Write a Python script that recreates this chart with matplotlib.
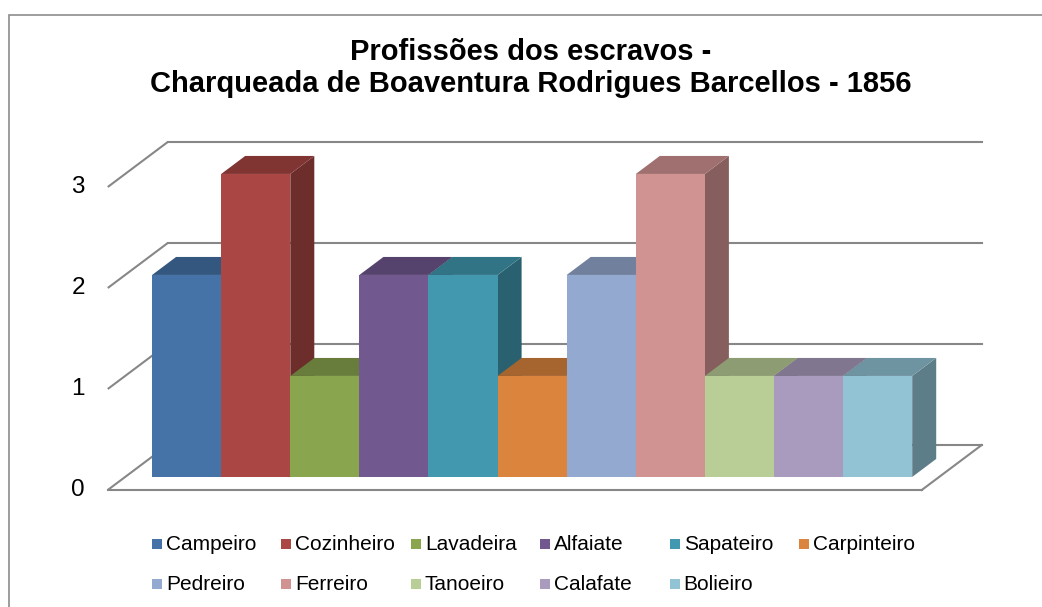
import numpy as np
import matplotlib.pyplot as plt
from matplotlib.patches import Polygon, Rectangle
import matplotlib.colors as mcolors

plt.rcParams['font.family'] = ['Liberation Sans', 'DejaVu Sans']

# data
profissoes = ['Campeiro', 'Cozinheiro', 'Lavadeira', 'Alfaiate', 'Sapateiro', 'Carpinteiro',
              'Pedreiro', 'Ferreiro', 'Tanoeiro', 'Calafate', 'Bolieiro']
quantidade = [2, 3, 1, 2, 2, 1, 2, 3, 1, 1, 1]
cores = ['#4572A7', '#AA4643', '#89A54E', '#71588F', '#4198AF', '#DB843D',
         '#93A9CF', '#D19392', '#B9CD96', '#A99BBD', '#92C3D4']
yticks = [0, 1, 2, 3]
titulo = ['Profissões dos escravos -', 'Charqueada de Boaventura Rodrigues Barcellos - 1856']

W, H = 1042, 607
fig = plt.figure(figsize=(W / 100, H / 100), dpi=100)
ax = fig.add_axes([0, 0, 1, 1])
ax.axis('off')

# pixel scale of the plot: one category = 69.1 px, one unit = 101 px
cat_px, unit_px = 69.1, 101.0
x0_px, y0_px = 134.7, 490.0
ax.set_xlim(-x0_px / cat_px, (W - x0_px) / cat_px)
ax.set_ylim((y0_px - H) / unit_px, y0_px / unit_px)

# depth vector (full depth of the floor) in data units
DX, DY = 60 / cat_px, 45 / unit_px
z0, z1 = 0.29, 0.69
margem = 0.39
xa, xb = -margem, len(quantidade) + margem
grid_c = '#878787'
lw = 1.5

# walls / gridlines
for v in yticks:
    ax.plot([xa, xa + DX], [v, v + DY], color=grid_c, lw=lw, zorder=1, solid_capstyle='butt')
    ax.plot([xa + DX, xb + DX], [v + DY, v + DY], color=grid_c, lw=lw, zorder=1)
    ax.text(-0.72, v, str(v), ha='right', va='center', fontsize=17.5, color='black')
ax.plot([xa, xb], [0, 0], color=grid_c, lw=lw, zorder=1)
ax.plot([xb, xb + DX], [0, DY], color=grid_c, lw=lw, zorder=1)


def escurecer(c, f):
    r, g, b = mcolors.to_rgb(c)
    return (r * f, g * f, b * f)


# 3d bars
x = np.arange(len(quantidade)) + z0 * DX
base = z0 * DY
dX, dY = (z1 - z0) * DX, (z1 - z0) * DY
bars = ax.bar(x, quantidade, width=1, bottom=base, align='edge', color=cores, linewidth=0)
for i, (b, v, c) in enumerate(zip(bars, quantidade, cores)):
    xi = x[i]
    lado = Polygon([(xi + 1, base), (xi + 1 + dX, base + dY), (xi + 1 + dX, base + v + dY),
                    (xi + 1, base + v)], closed=True, facecolor=escurecer(c, 0.64),
                   edgecolor='none', zorder=10 + 3 * i)
    topo = Polygon([(xi, base + v), (xi + 1, base + v), (xi + 1 + dX, base + v + dY),
                    (xi + dX, base + v + dY)], closed=True, facecolor=escurecer(c, 0.76),
                   edgecolor='none', zorder=11 + 3 * i)
    ax.add_patch(lado)
    ax.add_patch(topo)
    b.set_zorder(12 + 3 * i)

# title, two lines
for linha, py in zip(titulo, [52, 84]):
    fig.text(531 / W, 1 - py / H, linha, ha='center', va='center', fontsize=21,
             fontweight='bold')

# legend (two rows, fixed column pitch like Excel)
for k, (nome, c) in enumerate(zip(profissoes, cores)):
    lin, col = divmod(k, 6)
    px = 152 + 129.4 * col
    py = 544 + 40 * lin
    fig.patches.append(Rectangle((px / W, 1 - (py + 5) / H), 10 / W, 10 / H,
                                 transform=fig.transFigure, facecolor=c, edgecolor='none'))
    fig.text((px + 14) / W, 1 - py / H, nome, ha='left', va='center', fontsize=15)

# chart border
fig.patches.append(Rectangle((9 / W, -0.05), 1.2, 1 - 15 / H + 0.05, transform=fig.transFigure,
                             fill=False, edgecolor='#8C8C8C', linewidth=1.2))

fig.savefig('out.png', dpi=100)
